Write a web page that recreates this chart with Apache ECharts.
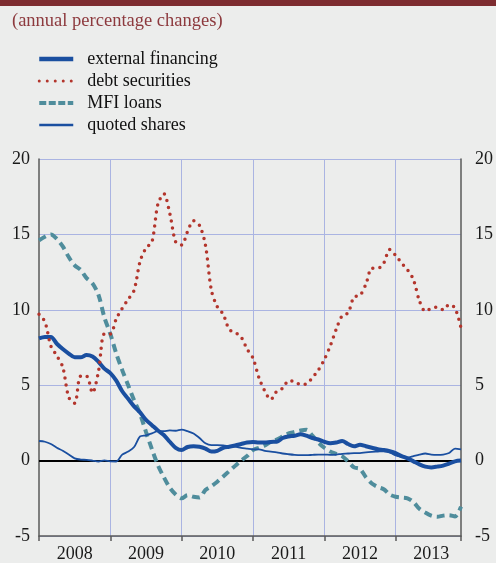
<!DOCTYPE html>
<html>
<head>
<meta charset="utf-8">
<script src="https://cdn.jsdelivr.net/npm/echarts@6/dist/echarts.min.js"></script>
<style>
  html, body { margin: 0; padding: 0; background: #ecedec; }
  #chart { width: 496px; height: 563px; }
</style>
</head>
<body>
<div id="chart"></div>
<script>
// years on the axis, monthly observations Jan 2008 - Dec 2013
const years = ['2008', '2009', '2010', '2011', '2012', '2013'];
const months = [];
years.forEach(y => {
    for (let m = 1; m <= 12; m++) months.push(y + '-' + (m < 10 ? '0' + m : m));
});

const externalFinancing = [
    8.1, 8.2, 8.2, 7.75, 7.4, 7.1, 6.85, 6.85, 7.0, 6.9, 6.55, 6.1,
    5.8, 5.3, 4.6, 4.1, 3.6, 3.2, 2.7, 2.35, 2.0, 1.7, 1.25, 0.85,
    0.7, 0.9, 0.95, 0.92, 0.8, 0.6, 0.65, 0.85, 0.92, 1.0, 1.1, 1.2,
    1.24, 1.2, 1.2, 1.24, 1.25, 1.5, 1.6, 1.65, 1.75, 1.65, 1.5, 1.4,
    1.25, 1.15, 1.2, 1.3, 1.1, 0.95, 1.05, 0.95, 0.85, 0.75, 0.7, 0.62,
    0.5, 0.3, 0.15, -0.05, -0.25, -0.4, -0.45, -0.4, -0.33, -0.2, -0.05, 0.0
];
const debtSecurities = [
    9.7, 9.2, 7.6, 6.95, 6.2, 4.2, 3.8, 5.6, 5.6, 4.5, 5.9, 8.4,
    8.4, 9.4, 10.1, 10.7, 11.3, 13.2, 14.1, 14.5, 17.0, 17.7, 16.4, 14.5,
    14.3, 15.2, 15.9, 15.6, 14.3, 11.3, 10.2, 9.7, 8.7, 8.5, 8.2, 7.4,
    6.8, 5.5, 4.6, 4.05, 4.6, 4.8, 5.3, 5.25, 5.05, 5.1, 5.5, 6.0,
    6.7, 7.6, 8.7, 9.6, 9.8, 10.85, 10.95, 11.7, 12.75, 12.75, 13.1, 14.0,
    13.6, 13.1, 12.65, 12.0, 10.6, 9.9, 10.1, 10.17, 10.0, 10.35, 10.1, 8.8
];
const mfiLoans = [
    14.6, 14.85, 15.0, 14.7, 14.2, 13.5, 12.95, 12.65, 12.1, 11.75, 11.0, 9.5,
    8.4, 7.1, 6.0, 5.0, 4.0, 3.1, 1.9, 0.75, -0.3, -1.1, -1.8, -2.25,
    -2.5, -2.3, -2.4, -2.45, -1.95, -1.7, -1.4, -1.05, -0.7, -0.35, 0.0, 0.3,
    0.7, 0.85, 1.0, 1.25, 1.4, 1.6, 1.8, 1.9, 2.0, 2.05, 1.65, 1.2,
    0.85, 0.6, 0.45, 0.3, -0.05, -0.45, -0.55, -1.1, -1.52, -1.75, -1.9, -2.25,
    -2.4, -2.45, -2.5, -2.75, -3.2, -3.45, -3.65, -3.73, -3.65, -3.62, -3.7, -3.05
];
const quotedShares = [
    1.3, 1.25, 1.1, 0.85, 0.65, 0.4, 0.15, 0.07, 0.05, 0.0, -0.06, 0.02,
    -0.05, -0.06, 0.4, 0.6, 0.9, 1.6, 1.68, 1.8, 1.95, 1.95, 2.0, 1.98,
    2.05, 1.95, 1.8, 1.5, 1.15, 1.02, 1.02, 1.0, 0.95, 0.92, 0.85, 0.8,
    0.75, 0.75, 0.65, 0.6, 0.55, 0.47, 0.42, 0.38, 0.36, 0.36, 0.38, 0.4,
    0.4, 0.38, 0.4, 0.45, 0.47, 0.5, 0.5, 0.55, 0.58, 0.6, 0.62, 0.55,
    0.35, 0.25, 0.2, 0.3, 0.4, 0.47, 0.4, 0.38, 0.4, 0.5, 0.8, 0.75
];

const serif = 'Liberation Serif';
const gridColor = '#aab4e2';
const axisColor = '#5a5a5a';
const blue = '#1a4fa0';
const red = '#b3352c';
const teal = '#4f8d9c';

const chart = echarts.init(document.getElementById('chart'));

const yAxisBase = {
    type: 'value',
    min: -5,
    max: 20,
    interval: 5,
    axisTick: { show: false },
    axisLine: { show: true, lineStyle: { color: axisColor, width: 1.5 } },
    axisLabel: { fontFamily: serif, fontSize: 18, color: '#1a1a1a' }
};

const option = {
    backgroundColor: '#ecedec',
    animation: false,
    graphic: [{
        type: 'rect',
        shape: { x: 0, y: 0, width: 496, height: 6 },
        style: { fill: '#7d2c30' }
    }],
    title: {
        text: '(annual percentage changes)',
        left: 12,
        top: 12,
        padding: 0,
        textStyle: { fontFamily: serif, fontSize: 18.5, fontWeight: 'normal', color: '#8d3a3e' }
    },
    legend: {
        orient: 'vertical',
        left: 37,
        top: 50,
        padding: 0,
        itemWidth: 34,
        itemHeight: 10,
        itemGap: 4,
        selectedMode: false,
        itemStyle: { opacity: 0 },
        textStyle: { fontFamily: serif, fontSize: 18, color: '#111', padding: [0, 0, 0, 9] },
        data: [
            { name: 'external financing', lineStyle: { width: 4.5 } },
            { name: 'debt securities', lineStyle: { width: 3, type: [0, 8], cap: 'round' } },
            { name: 'MFI loans', lineStyle: { width: 4, type: [7, 2.5] } },
            { name: 'quoted shares', lineStyle: { width: 2.5 } }
        ]
    },
    grid: { left: 39, right: 32, top: 159, bottom: 27 },
    xAxis: {
        type: 'category',
        data: months,
        boundaryGap: false,
        axisLine: { show: true, onZero: false, lineStyle: { color: axisColor, width: 1.5 } },
        axisTick: {
            show: true,
            length: 5,
            interval: (i) => i % 12 === 0 || i === months.length - 1,
            lineStyle: { color: axisColor, width: 1.5 }
        },
        axisLabel: {
            interval: (i) => i % 12 === 6,
            formatter: (v) => v.slice(0, 4),
            fontFamily: serif,
            fontSize: 18,
            color: '#1a1a1a',
            margin: 9
        },
        splitLine: {
            show: true,
            interval: (i) => i % 12 === 0 && i > 0,
            lineStyle: { color: gridColor, width: 1 }
        }
    },
    yAxis: [
        Object.assign({}, yAxisBase, {
            position: 'left',
            axisLabel: Object.assign({}, yAxisBase.axisLabel, { margin: 9 }),
            splitLine: { show: true, lineStyle: { color: gridColor, width: 1 } }
        }),
        Object.assign({}, yAxisBase, {
            position: 'right',
            axisLabel: Object.assign({}, yAxisBase.axisLabel, { margin: 14 }),
            splitLine: { show: false }
        })
    ],
    series: [
        {
            name: 'external financing',
            type: 'line',
            data: externalFinancing,
            symbol: 'none',
            smooth: 0.3,
            z: 4,
            lineStyle: { color: blue, width: 4 },
            itemStyle: { color: blue },
            markLine: {
                silent: true,
                symbol: ['none', 'none'],
                label: { show: false },
                lineStyle: { color: '#000', width: 1.8, type: 'solid' },
                z: 1,
                data: [{ yAxis: 0 }]
            }
        },
        {
            name: 'debt securities',
            type: 'line',
            data: debtSecurities,
            symbol: 'none',
            smooth: 0.3,
            z: 5,
            lineStyle: { color: red, width: 3.5, type: [0, 7], cap: 'round' },
            itemStyle: { color: red }
        },
        {
            name: 'MFI loans',
            type: 'line',
            data: mfiLoans,
            symbol: 'none',
            smooth: 0.3,
            z: 3,
            lineStyle: { color: teal, width: 4, type: [8, 5] },
            itemStyle: { color: teal }
        },
        {
            name: 'quoted shares',
            type: 'line',
            data: quotedShares,
            symbol: 'none',
            smooth: 0.3,
            z: 4,
            lineStyle: { color: blue, width: 1.8 },
            itemStyle: { color: blue }
        }
    ]
};

chart.setOption(option);
</script>
</body>
</html>
